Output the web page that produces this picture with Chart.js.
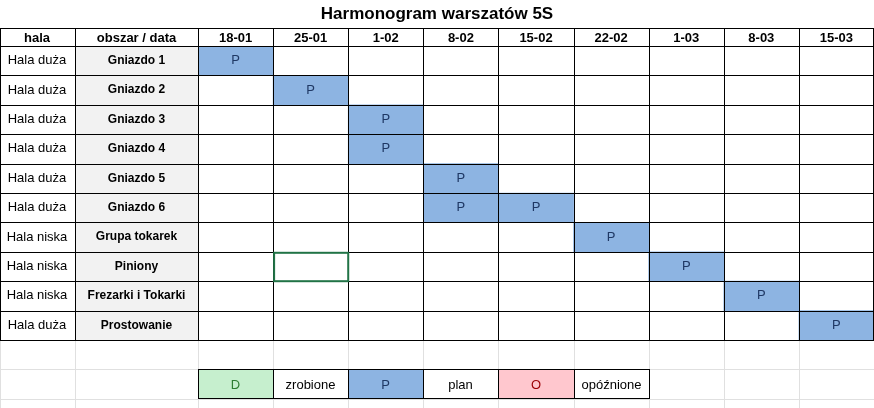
<!DOCTYPE html>
<html><head><meta charset="utf-8">
<script src="https://cdn.jsdelivr.net/npm/chart.js@4/dist/chart.umd.min.js"></script>
<style>body{margin:0;background:#fff}canvas{display:block}</style></head>
<body><canvas id="c" width="874" height="408"></canvas>
<script>
const title = "Harmonogram warszatów 5S";
const dates = ["18-01","25-01","1-02","8-02","15-02","22-02","1-03","8-03","15-03"];
const halls = ["Hala duża","Hala duża","Hala duża","Hala duża","Hala duża","Hala duża","Hala niska","Hala niska","Hala niska","Hala duża"];
const areas = ["Gniazdo 1","Gniazdo 2","Gniazdo 3","Gniazdo 4","Gniazdo 5","Gniazdo 6","Grupa tokarek","Piniony","Frezarki i Tokarki","Prostowanie"];
const planCells = [[0,0],[1,1],[2,2],[3,2],[4,3],[5,3],[5,4],[6,5],[7,6],[8,7],[9,8]]; // [rowIndex, dateIndex]
const legendItems = [["D","zrobione","#c6efce","#2e7d32"],["P","plan","#8db4e2","#1f3864"],["O","opóźnione","#ffc7ce","#9c0006"]];

const data = planCells.map(([r,c]) => ({y: areas[r], x: [c, c+1]}));
const grid = '#000';
const plugin = {
  id:'table',
  beforeDatasetsDraw(ch){
    const {ctx, scales:{x,y}, chartArea:a} = ch;
    ctx.save();
    // faint spreadsheet lines
    ctx.strokeStyle='#e0e0e0'; ctx.lineWidth=1;
    const rh = y.getPixelForValue(1)-y.getPixelForValue(0);
    for(let k=0;k<3;k++){const yy=Math.round(a.bottom+rh*(k+1))+0.5;ctx.beginPath();ctx.moveTo(0,yy);ctx.lineTo(874,yy);ctx.stroke();}
    for(let c=0;c<=9;c++){const xx=Math.round(x.getPixelForValue(c))+0.5;ctx.beginPath();ctx.moveTo(xx,a.bottom);ctx.lineTo(xx,408);ctx.stroke();}
    [0,75].forEach(xx=>{ctx.beginPath();ctx.moveTo(xx+0.5,a.bottom);ctx.lineTo(xx+0.5,408);ctx.stroke();});
    // obszar column background
    ctx.fillStyle='#f2f2f2';
    ctx.fillRect(75,a.top,a.left-75,a.bottom-a.top);
    ctx.restore();
  },
  afterDatasetsDraw(ch){
    const {ctx, scales:{x,y}, chartArea:a} = ch;
    ctx.save();
    const rh = y.getPixelForValue(1)-y.getPixelForValue(0);
    const hTop = 28;
    // P labels
    ctx.fillStyle='#1f3864'; ctx.font='13px "Liberation Sans", Arial'; ctx.textAlign='center'; ctx.textBaseline='middle';
    planCells.forEach(([r,c])=>ctx.fillText('P', x.getPixelForValue(c+0.5), y.getPixelForValue(r)));
    // grid lines
    ctx.strokeStyle=grid; ctx.lineWidth=1;
    const line=(x1,y1,x2,y2)=>{ctx.beginPath();ctx.moveTo(x1,y1);ctx.lineTo(x2,y2);ctx.stroke();};
    for(let r=0;r<=areas.length;r++){const yy=Math.round(a.top+rh*r)+0.5;line(0,yy,874,yy);}
    line(0,hTop+0.5,874,hTop+0.5);
    const vx=[0,75,a.left];for(let c=1;c<=9;c++)vx.push(x.getPixelForValue(c));
    vx.forEach(v=>{const xx=Math.min(Math.round(v),873)+0.5;line(xx,hTop,xx,a.bottom);});
    // header
    ctx.fillStyle='#000'; ctx.font='bold 13px "Liberation Sans", Arial';
    const hy=(hTop+a.top)/2+1;
    ctx.fillText('hala',37,hy); ctx.fillText('obszar / data',(75+a.left)/2,hy);
    dates.forEach((d,i)=>ctx.fillText(d,x.getPixelForValue(i+0.5),hy));
    // left columns
    areas.forEach((ar,i)=>{
      const yy=y.getPixelForValue(i);
      ctx.font='13px "Liberation Sans", Arial'; ctx.fillText(halls[i],37,yy);
      ctx.font='bold 12px "Liberation Sans", Arial'; ctx.fillText(ar,(75+a.left)/2,yy);
    });
    // title
    ctx.font='bold 17px "Liberation Sans", Arial'; ctx.fillText(title,437,14);
    // selection box
    ctx.strokeStyle='#217346'; ctx.lineWidth=2;
    const sy=y.getPixelForValue(7)-rh/2;
    ctx.strokeRect(x.getPixelForValue(1)+1,sy+1,x.getPixelForValue(2)-x.getPixelForValue(1)-1,rh-1);
    // legend row
    const ly=a.bottom+rh, lh=rh;
    ctx.lineWidth=1; ctx.font='13px "Liberation Sans", Arial';
    legendItems.forEach(([k,lab,bg,fg],i)=>{
      const x0=Math.round(x.getPixelForValue(i*2)),x1=Math.round(x.getPixelForValue(i*2+1)),x2=Math.round(x.getPixelForValue(i*2+2));
      ctx.fillStyle=bg; ctx.fillRect(x0,ly,x1-x0,lh);
      ctx.strokeStyle='#000'; ctx.strokeRect(x0+0.5,Math.round(ly)+0.5,x2-x0,Math.round(lh));
      line(x1+0.5,ly,x1+0.5,ly+lh);
      ctx.fillStyle=fg; ctx.fillText(k,(x0+x1)/2,ly+lh/2+1);
      ctx.fillStyle='#000'; ctx.fillText(lab,(x1+x2)/2,ly+lh/2+1);
    });
    ctx.restore();
  }
};
new Chart(document.getElementById('c'),{
  type:'bar',
  data:{labels:areas,datasets:[{data,backgroundColor:'#8db4e2',borderWidth:0,barPercentage:1,categoryPercentage:1,grouped:false}]},
  options:{
    indexAxis:'y',responsive:false,animation:false,
    layout:{padding:{left:198,top:46,right:0,bottom:68}},
    plugins:{legend:{display:false},tooltip:{enabled:false}},
    scales:{x:{type:'linear',min:0,max:9,display:false},y:{type:'category',display:false,offset:true}}
  },
  plugins:[plugin]
});
</script></body></html>
